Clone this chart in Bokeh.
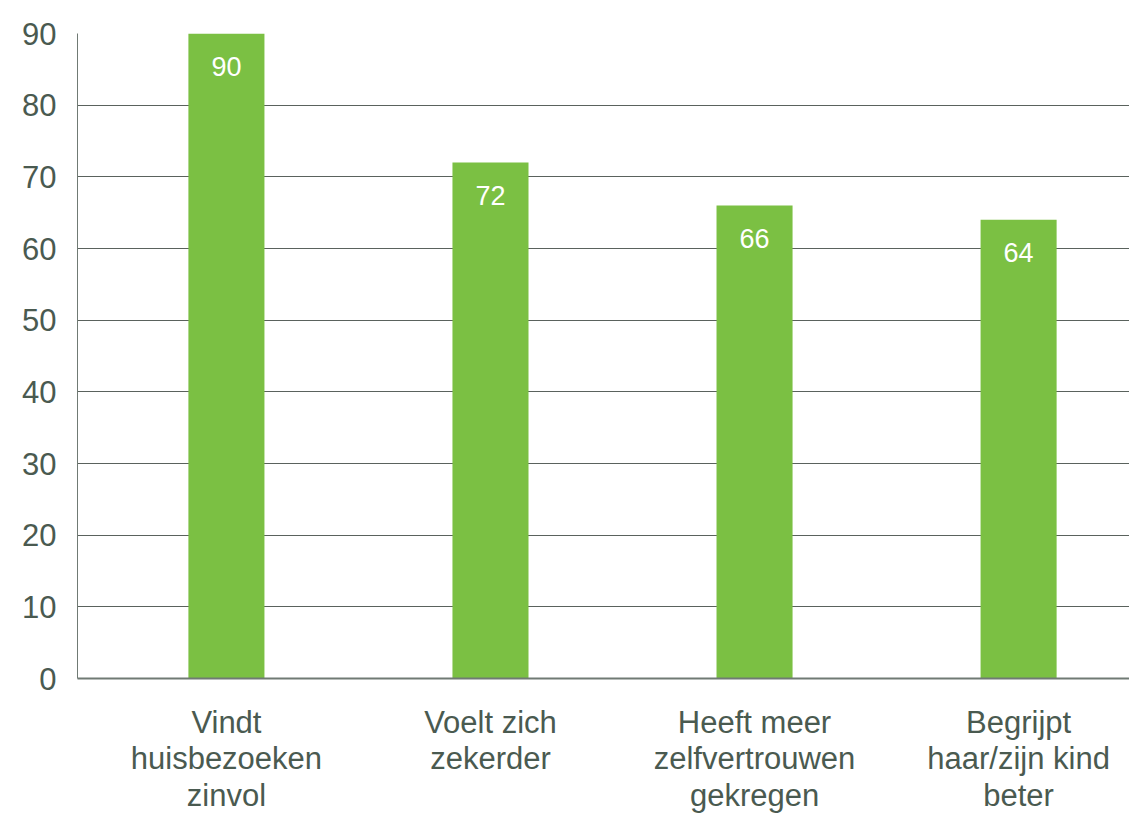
from bokeh.plotting import figure
from bokeh.models import ColumnDataSource, FixedTicker, Range1d
from bokeh.embed import file_html
from bokeh.resources import INLINE
from bokeh.core.properties import value

categories = ["Vindt\nhuisbezoeken\nzinvol", "Voelt zich\nzekerder",
              "Heeft meer\nzelfvertrouwen\ngekregen", "Begrijpt\nhaar/zijn kind\nbeter"]
values = [90, 72, 66, 64]
y_ticks = [0, 10, 20, 30, 40, 50, 60, 70, 80, 90]

xs = list(range(1, len(categories) + 1))
src = ColumnDataSource(dict(x=xs, top=values, label=[str(v) for v in values]))

p = figure(width=1129, height=816, output_backend="svg", toolbar_location=None,
           x_range=Range1d(0.436, 4.42), y_range=Range1d(0, 90),
           min_border_left=77, min_border_right=0, min_border_top=33, min_border_bottom=137)
p.outline_line_color = None
p.vbar(x="x", top="top", width=0.288, source=src, color="#7BC043", line_color=None)
p.text(x="x", y="top", text="label", source=src, text_color="white",
       text_font=value("Liberation Sans"), text_font_size="27px",
       text_align="center", text_baseline="middle", y_offset=33)

GREY = "#4a5a50"
p.xaxis.ticker = FixedTicker(ticks=xs)
p.xaxis.major_label_overrides = {x: c for x, c in zip(xs, categories)}
p.yaxis.ticker = FixedTicker(ticks=y_ticks)
for ax in (p.xaxis, p.yaxis):
    ax.major_tick_line_color = None
    ax.minor_tick_line_color = None
    ax.major_label_text_font = "Liberation Sans"
    ax.major_label_text_font_size = "31px"
    ax.major_label_text_color = GREY
    ax.axis_line_color = "#707a74"
    ax.axis_line_width = 2
p.yaxis.axis_line_width = 1
p.xaxis.major_label_text_line_height = 1.05
p.xaxis.major_label_standoff = 20
p.yaxis.major_label_standoff = 15
p.xgrid.grid_line_color = None
p.ygrid.grid_line_color = "#5a625d"
p.ygrid.grid_line_width = 1

open("out.html", "w").write(file_html(p, INLINE))
